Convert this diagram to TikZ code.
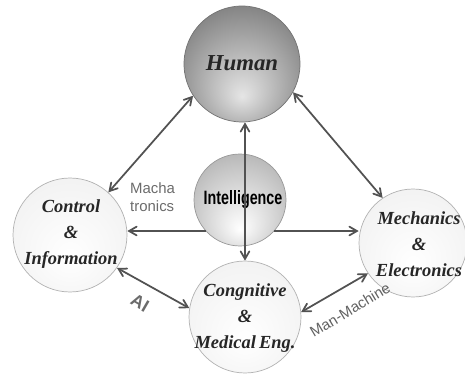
\documentclass[tikz,border=0pt]{standalone}
\usepackage{fontspec}
\usepackage{graphicx}
\usetikzlibrary{arrows,positioning}
\newfontfamily\labelsans{Liberation Sans}
\newfontfamily\ballfont{Liberation Serif}
\colorlet{arrowgray}{black!68}
\colorlet{notegray}{black!58}
\pgfdeclareradialshading{humanshade}{\pgfpoint{0bp}{-14bp}}{color(0bp)=(black!10); color(20bp)=(black!35); color(50bp)=(black!72)}
\pgfdeclareradialshading{intelshade}{\pgfpoint{0bp}{-16bp}}{color(0bp)=(white); color(25bp)=(black!22); color(50bp)=(black!45)}
\pgfdeclareradialshading{lightshade}{\pgfpoint{0bp}{-10bp}}{color(0bp)=(white); color(30bp)=(black!5); color(50bp)=(black!18)}

\begin{document}
\begin{tikzpicture}[x=0.02cm,y=-0.02cm,>=angle 60]
\tikzstyle{ball}=[circle,draw=black!30,line width=0.4pt,inner sep=0pt,shading=lightshade]
\tikzstyle{balltext}=[align=center,text=black!85,inner sep=0pt,font=\ballfont\fontsize{10.5}{14.8}\selectfont\bfseries\itshape]
\tikzstyle{link}=[draw=arrowgray,line width=1pt]
\tikzstyle{note}=[text=notegray,font=\labelsans\fontsize{8.5}{10}\selectfont]
\useasboundingbox (0,0) rectangle (465,374);

\node [ball,shading=humanshade,draw=black!55,minimum size=2.32cm] (H) at (242,64) {};
\node [ball,shading=intelshade,draw=black!40,minimum size=1.84cm] (I) at (240,200) {};
\node [ball,minimum size=2.28cm] (C) at (70,235) {};
\node [ball,minimum size=2.24cm] (G) at (245,317) {};
\node [ball,minimum size=2.16cm] (M) at (413,243) {};

\node [balltext,font=\ballfont\fontsize{13}{15}\selectfont\bfseries\itshape] (Htxt) at (242,63) {Human};
\node [font=\labelsans\bfseries\fontsize{11}{12}\selectfont] (Itxt) at (243,200) {\scalebox{0.74}[1]{Intelligence}};
\node [balltext] (Ctxt) at (71,234) {Control\\\&\\Information};
\node [balltext] (Gtxt) at (245,318) {Congnitive\\\&\\Medical\,Eng.};
\node [balltext] (Mtxt) at (419,244) {Mechanics\\\&\\Electronics};

\draw [link,<->] (H.213) -- (C.48);
\draw [link,<->] (H.331) -- (M.124);
\draw [link,<->] (C.325) -- (G.171);
\draw [link,<->] (G.5) -- (M.214);
\draw [link,->] (I.222) -- (I.222 -| C.east);
\draw [link,->] (I.318) -- (I.318 -| M.west);
\draw [link,<->] (G.north |- H.south) -- (G.north);

\node [note,anchor=west,align=left] (mt) at (124,197) {Macha\\tronics};
\node [note,font=\labelsans\bfseries\fontsize{10}{11}\selectfont,rotate=-30] (ai) at (140,303) {AI};
\node [note,text=black!62,rotate=31] (mm) at (350,310) {Man-Machine};
\end{tikzpicture}
\end{document}
